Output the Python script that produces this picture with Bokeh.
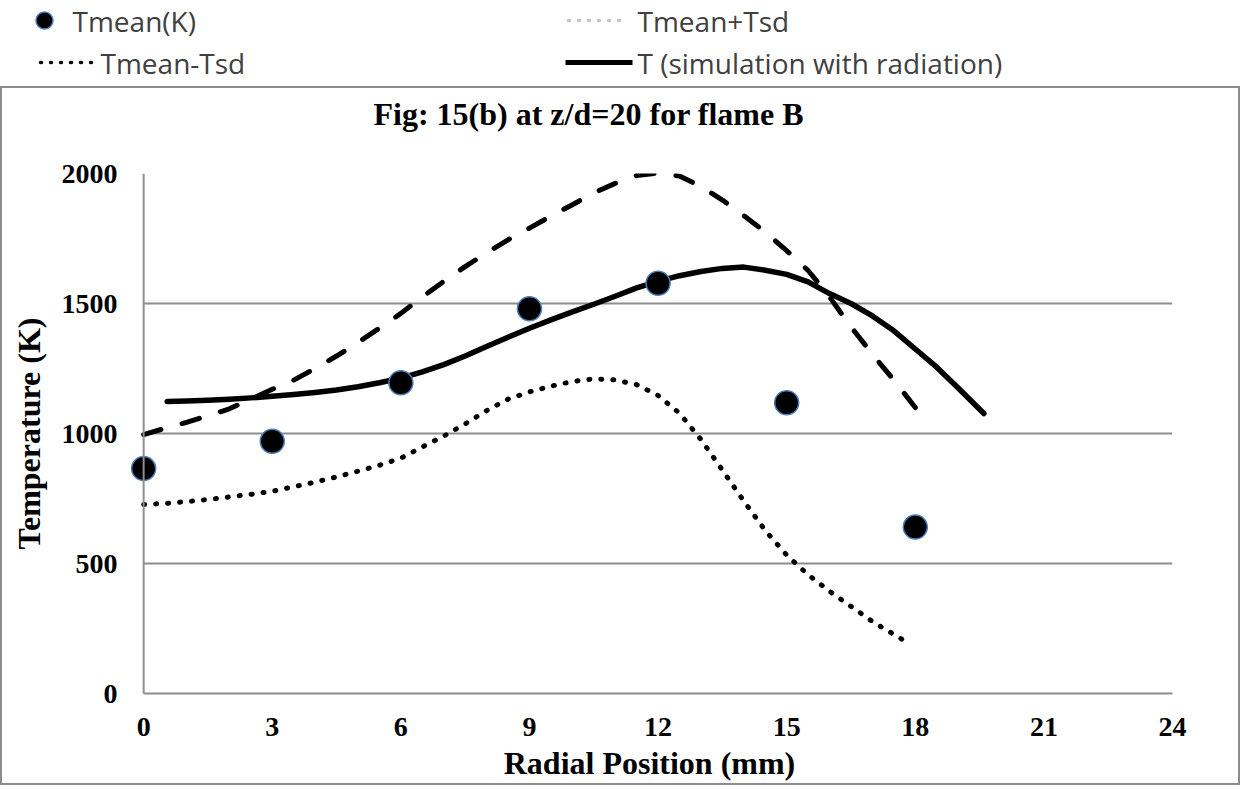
from bokeh.plotting import figure
from bokeh.layouts import column
from bokeh.models import Range1d, Span, FixedTicker, Title
from bokeh.core.properties import value
from bokeh.embed import file_html
from bokeh.resources import INLINE

# ---- data -------------------------------------------------------------
# measured mean temperature (K) at the radial stations (mm)
r_mean = [0, 3, 6, 9, 12, 15, 18]
t_mean = [865, 970, 1195, 1480, 1578, 1118, 640]

# mean + standard deviation
r_plus = [0, 0.5, 1, 1.5, 2, 2.5, 3, 3.5, 4, 4.5, 5, 5.5, 6, 6.5, 7, 7.5, 8, 8.5,
          9, 9.5, 10, 10.5, 11, 11.5, 12, 12.5, 13, 13.5, 14, 14.5, 15, 15.5, 16,
          16.5, 17, 17.5, 18]
t_plus = [996, 1020, 1043, 1068, 1095, 1132, 1170, 1205, 1250, 1298, 1350, 1405,
          1462, 1525, 1585, 1642, 1695, 1745, 1790, 1836, 1880, 1925, 1962, 1992,
          2002, 1990, 1950, 1898, 1838, 1775, 1703, 1627, 1525, 1410, 1305, 1205,
          1100]

# mean - standard deviation
r_minus = [0, 0.5, 1, 1.5, 2, 2.5, 3, 3.5, 4, 4.5, 5, 5.5, 6, 6.5, 7, 7.5, 8, 8.5,
           9, 9.5, 10, 10.5, 11, 11.5, 12, 12.5, 13, 13.5, 14, 14.5, 15, 15.5, 16,
           16.5, 17, 17.5, 17.8]
t_minus = [727, 731, 738, 746, 756, 766, 778, 795, 813, 833, 855, 878, 905, 948,
           990, 1037, 1088, 1132, 1160, 1182, 1200, 1210, 1206, 1188, 1146, 1078,
           977, 859, 740, 627, 532, 457, 393, 335, 277, 227, 198]

# simulated temperature with radiation
r_sim = [0.55, 1, 1.5, 2, 2.5, 3, 3.5, 4, 4.5, 5, 5.5, 6, 6.5, 7, 7.5, 8, 8.5, 9,
         9.5, 10, 10.5, 11, 11.5, 12, 12.5, 13, 13.5, 14, 14.5, 15, 15.5, 16, 16.5,
         17, 17.5, 18, 18.5, 19, 19.6]
t_sim = [1123, 1125, 1128, 1132, 1137, 1143, 1150, 1158, 1167, 1180, 1195, 1213,
         1237, 1265, 1298, 1335, 1370, 1405, 1437, 1468, 1497, 1528, 1560, 1585,
         1607, 1623, 1635, 1640, 1628, 1612, 1583, 1538, 1500, 1452, 1395, 1325,
         1255, 1175, 1077]

x_ticks = [0, 3, 6, 9, 12, 15, 18, 21, 24]
y_ticks = [0, 500, 1000, 1500, 2000]

legend_labels = ["Tmean(K)", "Tmean+Tsd", "Tmean-Tsd", "T (simulation with radiation)"]

GRID = "#8e8e8e"
SERIF = "Liberation Serif"
LEG_FONT = "Open Sans"
LEG_TEXT = "#404040"
MARK_EDGE = "#4a7ebb"

# ---- legend strip (pixel coordinates, y pointing down) ----------------
leg = figure(width=1244, height=86, x_range=Range1d(0, 1244), y_range=Range1d(86, 0),
             x_axis_type=None, y_axis_type=None, output_backend="svg",
             toolbar_location=None, min_border=0, outline_line_color=None,
             frame_align=False)
leg.grid.visible = False

leg.scatter([44], [20], size=17, fill_color="black", line_color=MARK_EDGE, line_width=1.5)
leg.line([568, 628], [20, 20], line_color="#c4c4c4", line_width=3.5,
         line_dash="1 9", line_cap="round")
leg.line([40, 97], [62, 62], line_color="black", line_width=3.5,
         line_dash="1 9", line_cap="round")
leg.line([565, 632], [62, 62], line_color="black", line_width=5)
leg.text(x=[72, 637, 100, 637], y=[20, 20, 62, 62], text=legend_labels,
         text_font=value(LEG_FONT), text_font_size="28px", text_color=LEG_TEXT,
         text_baseline="middle", text_align="left")

# ---- main chart -------------------------------------------------------
p = figure(width=1240, height=699, x_range=Range1d(-0.4, 24), y_range=Range1d(0, 2000),
           output_backend="svg", toolbar_location=None, title=None,
           min_border_left=124, min_border_right=70, min_border_top=85,
           min_border_bottom=94, outline_line_color=None, frame_align=False,
           styles={"border": "2px solid #8c8c8c"})

# gap between frame and title, then the title itself
p.add_layout(Title(text=" ", text_font_size="1px", standoff=39), "above")
p.add_layout(Title(text="Fig: 15(b) at z/d=20 for  flame B", align="left",
                   offset=247, standoff=0, text_font=SERIF,
                   text_font_style="bold", text_font_size="32px",
                   text_color="black"), "above")

for ax in (p.xaxis, p.yaxis):
    ax.major_tick_line_color = None
    ax.minor_tick_line_color = None
    ax.major_tick_in = 0
    ax.major_tick_out = 0
    ax.minor_tick_in = 0
    ax.minor_tick_out = 0
    ax.major_label_text_font = SERIF
    ax.major_label_text_font_style = "bold"
    ax.major_label_text_font_size = "28px"
    ax.major_label_text_color = "black"
    ax.axis_label_text_font = SERIF
    ax.axis_label_text_font_style = "bold"
    ax.axis_label_text_font_size = "32px"
    ax.axis_label_text_color = "black"

p.xaxis.ticker = FixedTicker(ticks=x_ticks)
p.xaxis.bounds = (0, 24)
p.xaxis.axis_line_color = GRID
p.xaxis.axis_line_width = 2
p.xaxis.major_label_standoff = 24
p.xaxis.axis_label = "Radial Position (mm)"
p.xaxis.axis_label_standoff = 6

p.yaxis.ticker = FixedTicker(ticks=y_ticks)
p.yaxis.axis_line_color = None
p.yaxis.major_label_standoff = 9
p.yaxis.axis_label = "Temperature (K)"
p.yaxis.axis_label_standoff = 12

p.xgrid.grid_line_color = None
p.ygrid.ticker = FixedTicker(ticks=y_ticks)
p.ygrid.grid_line_color = GRID
p.ygrid.grid_line_width = 2
p.ygrid.cross_bounds = (0, 24)

# vertical axis line at r = 0
p.add_layout(Span(location=0, dimension="height", line_color=GRID, line_width=2))

p.line(r_plus, t_plus, line_color="black", line_width=5, line_dash="18 22",
       line_cap="round")
p.line(r_minus, t_minus, line_color="black", line_width=5, line_dash="1 11",
       line_cap="round")
p.line(r_sim, t_sim, line_color="black", line_width=5.5, line_join="round",
       line_cap="round")
p.scatter(r_mean, t_mean, size=24, fill_color="black", line_color=MARK_EDGE,
          line_width=1.5)

layout = column(leg, p, spacing=0)
open("out.html", "w").write(file_html(layout, INLINE))
